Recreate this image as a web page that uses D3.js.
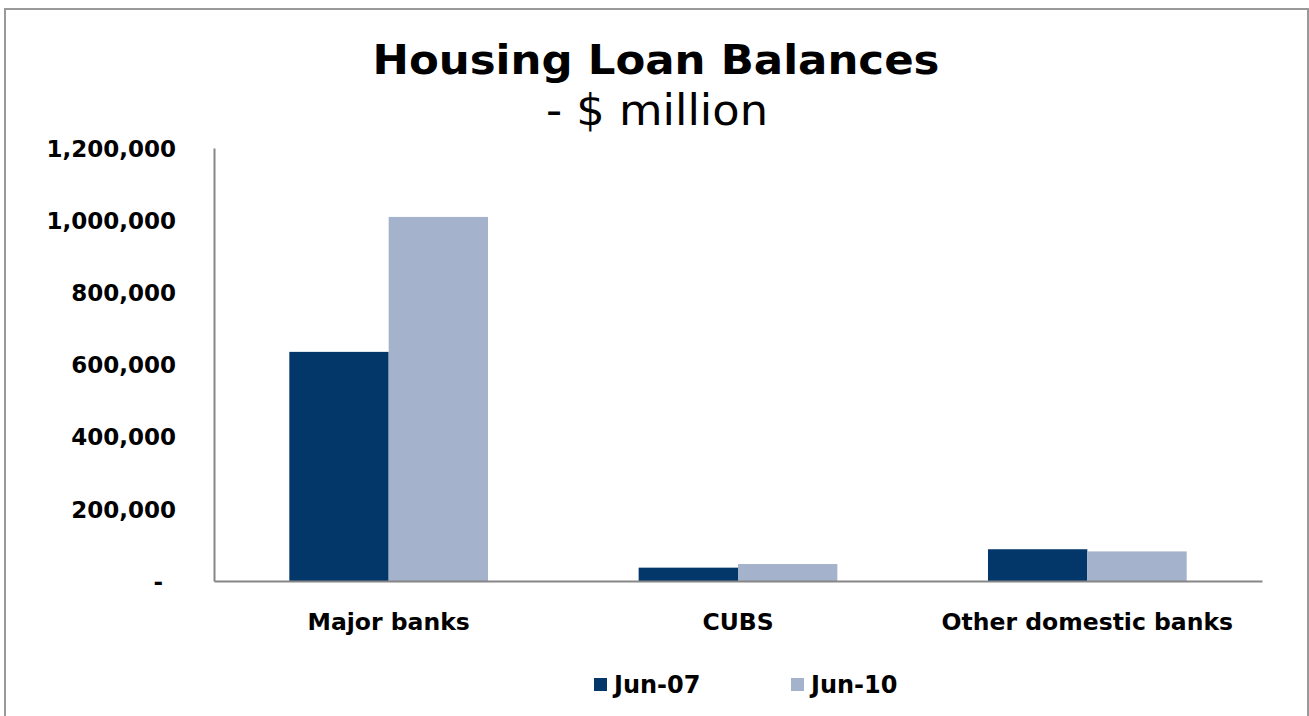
<!DOCTYPE html>
<html>
<head>
<meta charset="utf-8">
<script src="https://cdn.jsdelivr.net/npm/d3@7"></script>
<style>
  html, body { margin: 0; padding: 0; background: #ffffff; }
  svg { display: block; }
  text { font-family: "DejaVu Sans", Verdana, sans-serif; fill: #000; }
</style>
</head>
<body>
<script>
// ---- data ----
const categories = ["Major banks", "CUBS", "Other domestic banks"];
const seriesNames = ["Jun-07", "Jun-10"];
const jun07 = [635000, 37000, 88000];
const jun10 = [1009000, 47000, 82000];
const yTicks = [0, 200000, 400000, 600000, 800000, 1000000, 1200000];
const colors = ["#033669", "#A4B3CB"];

const W = 1309, H = 716;
const margin = { left: 214, right: W - 1262, top: 148, bottom: H - 581 };

const svg = d3.select("body").append("svg").attr("width", W).attr("height", H);

// frame
svg.append("rect")
  .attr("x", 5).attr("y", 9).attr("width", 1303).attr("height", 720)
  .attr("fill", "none").attr("stroke", "#999999").attr("stroke-width", 2);

const x0 = d3.scaleBand().domain(categories).range([margin.left, W - margin.right]).padding(0);
const x1 = d3.scaleBand().domain(seriesNames).range([0, x0.bandwidth()]).paddingInner(0).paddingOuter(0.758);
const y = d3.scaleLinear().domain([0, 1200000]).range([H - margin.bottom, margin.top]);

const seriesValues = [jun07, jun10];

// bars
const groups = svg.append("g").selectAll("g").data(categories).join("g")
  .attr("transform", d => `translate(${x0(d)},0)`);
groups.selectAll("rect")
  .data((d, i) => seriesNames.map((s, j) => ({ s, v: seriesValues[j][i], c: colors[j] })))
  .join("rect")
  .attr("x", d => x1(d.s))
  .attr("width", x1.bandwidth())
  .attr("y", d => y(d.v))
  .attr("height", d => y(0) - y(d.v))
  .attr("fill", d => d.c);

// y axis
const fmt = d3.format(",");
const yAxis = d3.axisLeft(y).tickValues(yTicks).tickSize(0).tickPadding(38)
  .tickFormat(d => d === 0 ? "-" : fmt(d));
const gy = svg.append("g").attr("transform", `translate(${margin.left},0)`).call(yAxis);
gy.select(".domain").attr("stroke", "#868686").attr("stroke-width", 2);
gy.selectAll(".tick text")
  .style("font-family", "'DejaVu Sans', Verdana, sans-serif")
  .style("font-weight", "bold").style("font-size", "23px").attr("fill", "#000")
  .attr("dy", "0.36em");
gy.selectAll(".tick").filter(d => d === 0).select("text").attr("x", -51);

// x axis
const xAxis = d3.axisBottom(x0).tickSize(0).tickPadding(32);
const gx = svg.append("g").attr("transform", `translate(0,${y(0)})`).call(xAxis);
gx.select(".domain").attr("stroke", "#868686").attr("stroke-width", 2);
gx.selectAll(".tick text")
  .style("font-family", "'DejaVu Sans', Verdana, sans-serif")
  .style("font-weight", "bold").style("font-size", "23.5px").attr("fill", "#000")
  .attr("dy", "0.72em");

// title
svg.append("text").attr("x", 656).attr("y", 74).attr("text-anchor", "middle")
  .style("font-size", "41px").style("font-weight", "bold")
  .attr("textLength", 567).attr("lengthAdjust", "spacingAndGlyphs")
  .text("Housing Loan Balances");
svg.append("text").attr("x", 657).attr("y", 125).attr("text-anchor", "middle")
  .style("font-size", "42px")
  .attr("textLength", 222).attr("lengthAdjust", "spacingAndGlyphs")
  .text("- $ million");

// legend
const legX = [594, 791];
const leg = svg.append("g").selectAll("g").data(seriesNames).join("g")
  .attr("transform", (d, i) => `translate(${legX[i]},678)`);
leg.append("rect").attr("width", 13).attr("height", 13).attr("fill", (d, i) => colors[i]);
leg.append("text").attr("x", 20).attr("y", 15)
  .style("font-size", "24px").style("font-weight", "bold")
  .text(d => d);
</script>
</body>
</html>
